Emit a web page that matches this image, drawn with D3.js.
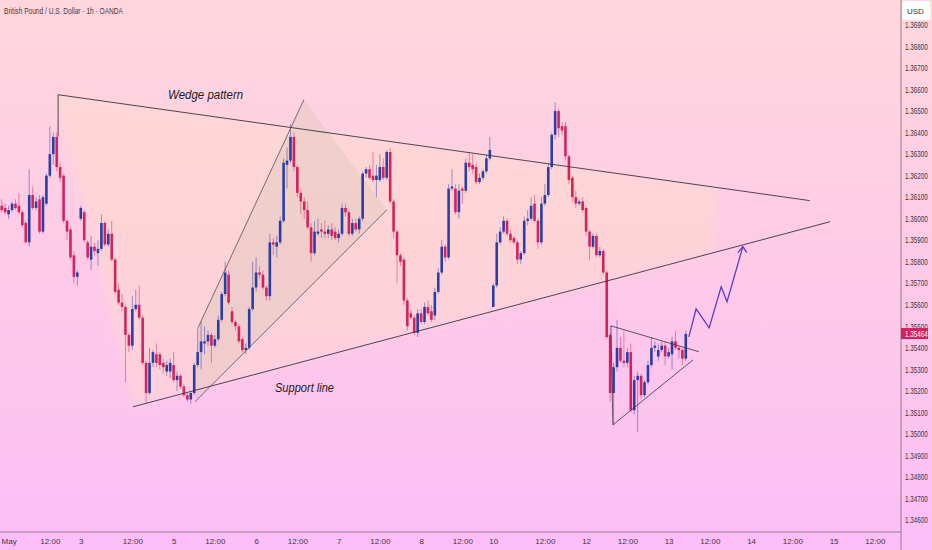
<!DOCTYPE html>
<html>
<head>
<meta charset="utf-8">
<script src="https://cdn.jsdelivr.net/npm/d3@7"></script>
<style>
  html, body { margin: 0; padding: 0; background: #fdd3e2; }
  svg { display: block; }
  .axis text { font-family: "Liberation Sans", Arial, sans-serif; fill: #3d3540; }
</style>
</head>
<body>
<div id="chart"></div>
<script>
// GBP/USD 1h candles, [open, high, low, close]
var candles = [
  [1.3606,1.3609,1.3603,1.3604],[1.3605,1.3607,1.3602,1.3603],[1.3602,1.3606,1.3600,1.3604],[1.3604,1.3608,1.3603,1.3607],
  [1.3607,1.3609,1.3604,1.3605],[1.3606,1.3612,1.3602,1.3603],[1.3603,1.3604,1.3596,1.3597],[1.3598,1.3599,1.3589,1.3589],
  [1.3589,1.3623,1.3587,1.3611],[1.3611,1.3615,1.3604,1.3605],[1.3605,1.3610,1.3604,1.3608],[1.3609,1.3611,1.3593,1.3594],
  [1.3594,1.3611,1.3593,1.3610],[1.3607,1.3621,1.3606,1.3620],[1.3620,1.3643,1.3619,1.3630],[1.3630,1.3640,1.3625,1.3638],
  [1.3638,1.3640,1.3622,1.3624],[1.3624,1.3626,1.3617,1.3619],[1.3620,1.3621,1.3598,1.3599],[1.3599,1.3600,1.3590,1.3594],
  [1.3595,1.3596,1.3581,1.3582],[1.3583,1.3585,1.3570,1.3573],[1.3573,1.3576,1.3569,1.3575],[1.3600,1.3606,1.3599,1.3605],
  [1.3603,1.3604,1.3589,1.3590],[1.3589,1.3590,1.3581,1.3582],[1.3581,1.3592,1.3576,1.3587],[1.3587,1.3589,1.3583,1.3585],
  [1.3584,1.3590,1.3578,1.3586],[1.3586,1.3602,1.3585,1.3598],[1.3598,1.3599,1.3587,1.3588],[1.3588,1.3595,1.3587,1.3593],
  [1.3593,1.3599,1.3580,1.3581],[1.3581,1.3582,1.3565,1.3566],[1.3567,1.3570,1.3560,1.3561],[1.3561,1.3565,1.3557,1.3559],
  [1.3559,1.3560,1.3524,1.3546],[1.3546,1.3547,1.3538,1.3541],[1.3541,1.3564,1.3539,1.3558],[1.3558,1.3567,1.3557,1.3560],
  [1.3560,1.3569,1.3553,1.3554],[1.3554,1.3555,1.3532,1.3533],[1.3533,1.3534,1.3514,1.3519],[1.3519,1.3540,1.3518,1.3533],
  [1.3533,1.3539,1.3531,1.3538],[1.3537,1.3542,1.3531,1.3533],[1.3537,1.3538,1.3530,1.3532],[1.3533,1.3535,1.3528,1.3531],
  [1.3529,1.3534,1.3527,1.3532],[1.3529,1.3535,1.3526,1.3533],[1.3532,1.3538,1.3524,1.3525],[1.3525,1.3529,1.3520,1.3527],
  [1.3527,1.3528,1.3521,1.3522],[1.3522,1.3523,1.3517,1.3518],[1.3518,1.3519,1.3515,1.3516],[1.3516,1.3520,1.3514,1.3519],
  [1.3519,1.3533,1.3518,1.3532],[1.3532,1.3549,1.3531,1.3538],[1.3538,1.3552,1.3530,1.3543],[1.3542,1.3550,1.3537,1.3543],
  [1.3543,1.3548,1.3541,1.3546],[1.3546,1.3547,1.3533,1.3541],[1.3541,1.3546,1.3540,1.3544],[1.3544,1.3555,1.3543,1.3553],
  [1.3553,1.3566,1.3552,1.3565],[1.3565,1.3580,1.3564,1.3575],[1.3574,1.3576,1.3560,1.3561],[1.3557,1.3559,1.3551,1.3552],
  [1.3552,1.3553,1.3548,1.3550],[1.3550,1.3551,1.3542,1.3543],[1.3544,1.3545,1.3538,1.3539],[1.3539,1.3542,1.3537,1.3540],
  [1.3540,1.3559,1.3539,1.3558],[1.3558,1.3580,1.3557,1.3568],[1.3568,1.3582,1.3566,1.3575],[1.3575,1.3578,1.3572,1.3574],
  [1.3574,1.3576,1.3567,1.3568],[1.3568,1.3569,1.3562,1.3564],[1.3564,1.3593,1.3562,1.3589],[1.3589,1.3591,1.3583,1.3588],
  [1.3587,1.3592,1.3582,1.3589],[1.3589,1.3601,1.3588,1.3599],[1.3599,1.3628,1.3598,1.3626],[1.3625,1.3633,1.3614,1.3627],
  [1.3627,1.3644,1.3626,1.3638],[1.3638,1.3640,1.3622,1.3624],[1.3624,1.3625,1.3610,1.3612],[1.3612,1.3614,1.3602,1.3608],
  [1.3608,1.3610,1.3600,1.3604],[1.3604,1.3608,1.3595,1.3596],[1.3596,1.3598,1.3580,1.3584],[1.3584,1.3599,1.3583,1.3594],
  [1.3593,1.3600,1.3592,1.3594],[1.3595,1.3598,1.3591,1.3594],[1.3594,1.3599,1.3591,1.3593],[1.3593,1.3597,1.3591,1.3595],
  [1.3595,1.3598,1.3590,1.3592],[1.3594,1.3596,1.3590,1.3591],[1.3591,1.3595,1.3589,1.3593],[1.3593,1.3607,1.3592,1.3605],
  [1.3605,1.3607,1.3601,1.3603],[1.3603,1.3604,1.3592,1.3593],[1.3593,1.3600,1.3592,1.3598],[1.3598,1.3600,1.3594,1.3595],
  [1.3595,1.3601,1.3593,1.3600],[1.3600,1.3622,1.3599,1.3621],[1.3621,1.3624,1.3619,1.3623],[1.3623,1.3625,1.3618,1.3619],
  [1.3620,1.3631,1.3617,1.3618],[1.3618,1.3625,1.3610,1.3620],[1.3618,1.3630,1.3617,1.3624],[1.3624,1.3628,1.3618,1.3619],
  [1.3619,1.3632,1.3618,1.3631],[1.3631,1.3633,1.3607,1.3608],[1.3608,1.3609,1.3591,1.3594],[1.3594,1.3595,1.3570,1.3583],
  [1.3583,1.3584,1.3578,1.3580],[1.3581,1.3582,1.3560,1.3562],[1.3562,1.3563,1.3548,1.3550],[1.3556,1.3558,1.3553,1.3554],
  [1.3554,1.3555,1.3546,1.3547],[1.3547,1.3558,1.3545,1.3556],[1.3556,1.3558,1.3551,1.3552],[1.3552,1.3561,1.3551,1.3559],
  [1.3559,1.3562,1.3555,1.3556],[1.3557,1.3560,1.3552,1.3553],[1.3555,1.3568,1.3553,1.3566],[1.3566,1.3577,1.3565,1.3575],
  [1.3575,1.3590,1.3574,1.3587],[1.3587,1.3588,1.3580,1.3582],[1.3582,1.3616,1.3581,1.3614],[1.3614,1.3623,1.3613,1.3615],
  [1.3614,1.3616,1.3602,1.3603],[1.3603,1.3616,1.3600,1.3613],[1.3614,1.3615,1.3607,1.3613],[1.3613,1.3628,1.3612,1.3626],
  [1.3626,1.3631,1.3622,1.3624],[1.3625,1.3630,1.3621,1.3623],[1.3624,1.3626,1.3616,1.3617],[1.3617,1.3621,1.3616,1.3619],
  [1.3619,1.3623,1.3618,1.3622],[1.3622,1.3630,1.3621,1.3628],[1.3628,1.3638,1.3627,1.3632],[1.3559,1.3570,1.3559,1.3569],
  [1.3569,1.3593,1.3568,1.3589],[1.3589,1.3596,1.3588,1.3594],[1.3594,1.3601,1.3593,1.3599],[1.3599,1.3600,1.3592,1.3593],
  [1.3593,1.3595,1.3589,1.3590],[1.3591,1.3592,1.3588,1.3589],[1.3589,1.3590,1.3579,1.3581],[1.3581,1.3585,1.3579,1.3584],
  [1.3584,1.3601,1.3583,1.3599],[1.3599,1.3604,1.3597,1.3600],[1.3600,1.3610,1.3599,1.3606],[1.3607,1.3611,1.3598,1.3599],
  [1.3599,1.3600,1.3586,1.3589],[1.3589,1.3610,1.3588,1.3607],[1.3607,1.3616,1.3606,1.3611],[1.3611,1.3626,1.3610,1.3624],
  [1.3624,1.3640,1.3623,1.3639],[1.3639,1.3654,1.3637,1.3650],[1.3650,1.3651,1.3638,1.3642],[1.3643,1.3645,1.3639,1.3641],
  [1.3643,1.3645,1.3627,1.3629],[1.3629,1.3630,1.3616,1.3618],[1.3619,1.3620,1.3608,1.3610],[1.3610,1.3613,1.3605,1.3607],
  [1.3607,1.3609,1.3606,1.3608],[1.3608,1.3610,1.3603,1.3604],[1.3605,1.3606,1.3592,1.3594],[1.3594,1.3595,1.3581,1.3587],
  [1.3587,1.3593,1.3586,1.3592],[1.3592,1.3593,1.3582,1.3583],[1.3583,1.3587,1.3582,1.3585],[1.3585,1.3586,1.3574,1.3575],
  [1.3575,1.3576,1.3544,1.3545],[1.3546,1.3547,1.3515,1.3519],[1.3519,1.3533,1.3504,1.3531],[1.3531,1.3553,1.3529,1.3540],
  [1.3540,1.3545,1.3533,1.3534],[1.3534,1.3548,1.3531,1.3533],[1.3533,1.3540,1.3531,1.3538],[1.3538,1.3542,1.3510,1.3511],
  [1.3511,1.3527,1.3509,1.3525],[1.3525,1.3529,1.3501,1.3527],[1.3527,1.3528,1.3516,1.3518],[1.3518,1.3525,1.3517,1.3524],
  [1.3524,1.3534,1.3523,1.3532],[1.3532,1.3545,1.3531,1.3540],[1.3540,1.3543,1.3538,1.3541],[1.3536,1.3542,1.3534,1.3539],
  [1.3539,1.3543,1.3538,1.3541],[1.3541,1.3543,1.3532,1.3536],[1.3536,1.3540,1.3535,1.3538],[1.3537,1.3545,1.3530,1.3543],
  [1.3543,1.3548,1.3539,1.3540],[1.3540,1.3541,1.3535,1.3539],[1.3539,1.3540,1.3532,1.3535],[1.3535,1.3548,1.3534,1.35464]
];

var lastPrice = 1.35464;

// time axis: bar index of each label, and the label
var timeTickIdx = [2, 14, 23, 38, 50, 62, 74, 86, 98, 110, 122, 134, 143, 158, 170, 182, 194, 206, 218, 230, 242, 254];
var timeTickLabels = ["May", "12:00", "3", "12:00", "5", "12:00", "6", "12:00", "7", "12:00", "8", "12:00",
                      "10", "12:00", "12", "12:00", "13", "12:00", "14", "12:00", "15", "12:00"];

// price axis ticks
var priceTicks = [1.369, 1.368, 1.367, 1.366, 1.365, 1.364, 1.363, 1.362, 1.361, 1.360, 1.359, 1.358,
                  1.357, 1.356, 1.355, 1.354, 1.353, 1.352, 1.351, 1.350, 1.349, 1.348, 1.347, 1.346];

// drawings, as [bar index, price]
var wedgeTopLine = [[16.4, 1.36576], [235.1, 1.36084]];
var wedgeLeftEdge = [[16.4, 1.36576], [16.4, 1.36381]];
var supportLine = [[38.2, 1.35126], [241.0, 1.35986]];
var wedgeZone = [[16.4, 1.36576], [207.5, 1.36146], [207.5, 1.35844], [38.2, 1.35126]];
var risingWedge = [[56.2, 1.35149], [57.1, 1.35493], [87.9, 1.36553], [112.1, 1.36042]];
var pennantTop = [[177.2, 1.35502], [202.8, 1.35382]];
var pennantBottom = [[177.8, 1.35042], [201.1, 1.35344]];
var pennantEdge = [[177.2, 1.35502], [177.8, 1.35042]];
var projection = [[199.9, 1.35451], [202.0, 1.35581], [205.8, 1.35493], [209.3, 1.35684], [211.0, 1.35614], [215.6, 1.35870]];
var notes = [
  { text: "Wedge pattern", at: [48.4, 1.36558], len: 75 },
  { text: "Support line", at: [79.5, 1.35196], len: 59 }
];

function init() {
var w = 932;
var h = 550;
var plotRight = 901;
var plotBottom = 532;
var squeeze = 0.74;   // axis labels are narrow in the original

var svg = d3.select("#chart")
            .append("svg")
            .attr("width", w)
            .attr("height", h);

var defs = svg.append("defs");
var bg = defs.append("linearGradient").attr("id", "bg")
    .attr("x1", 0).attr("y1", 0).attr("x2", 0).attr("y2", 1);
bg.append("stop").attr("offset", "0%").attr("stop-color", "#ffd7dd");
bg.append("stop").attr("offset", "45%").attr("stop-color", "#fecbe6");
bg.append("stop").attr("offset", "100%").attr("stop-color", "#fdbef8");

defs.append("filter").attr("id", "soft")
    .attr("x", "-10%").attr("y", "-10%").attr("width", "120%").attr("height", "120%")
    .append("feGaussianBlur").attr("stdDeviation", 4);

svg.append("rect")
    .attr("width", w)
    .attr("height", h)
    .attr("fill", "url(#bg)");

var x = d3.scaleLinear().domain([-0.5, 255.5]).range([0, 880]);
var y = d3.scaleLinear().domain([1.346, 1.369]).range([520, 25]);

var line = d3.line()
    .x(function(d) { return x(d[0]); })
    .y(function(d) { return y(d[1]); });

var plot = svg.append("g");

// shaded zones
plot.append("path")
    .attr("d", line(wedgeZone) + "Z")
    .attr("fill", "#ffe0c6")
    .attr("opacity", 0.42)
    .attr("filter", "url(#soft)");

plot.append("path")
    .attr("d", line(risingWedge) + "Z")
    .attr("fill", "#dcc6ba")
    .attr("opacity", 0.4);

// candles
var up = "#2a3fa6";
var down = "#d3235f";

plot.selectAll("line.wick")
    .data(candles)
    .enter()
    .append("line")
    .attr("class", "wick")
    .attr("x1", function(d, i) { return x(i); })
    .attr("x2", function(d, i) { return x(i); })
    .attr("y1", function(d) { return y(d[1]); })
    .attr("y2", function(d) { return y(d[2]); })
    .attr("stroke", function(d) { return d[3] >= d[0] ? up : down; })
    .attr("stroke-opacity", 0.55)
    .attr("stroke-width", 0.9);

plot.selectAll("rect.body")
    .data(candles)
    .enter()
    .append("rect")
    .attr("class", "body")
    .attr("x", function(d, i) { return x(i) - 1.3; })
    .attr("y", function(d) { return y(Math.max(d[0], d[3])); })
    .attr("width", 2.6)
    .attr("height", function(d) { return Math.max(1, Math.abs(y(d[0]) - y(d[3]))); })
    .attr("fill", function(d) { return d[3] >= d[0] ? up : down; });

// trend lines
var lineColor = "#3b3340";
[wedgeTopLine, wedgeLeftEdge, supportLine].forEach(function(seg) {
    plot.append("path")
        .attr("d", line(seg))
        .attr("fill", "none")
        .attr("stroke", lineColor)
        .attr("stroke-width", 0.9);
});

plot.append("path")
    .attr("d", line([risingWedge[0], risingWedge[3]]) + line([risingWedge[1], risingWedge[2]]))
    .attr("fill", "none")
    .attr("stroke", "#5a4e58")
    .attr("stroke-width", 0.8);

[pennantTop, pennantBottom, pennantEdge].forEach(function(seg) {
    plot.append("path")
        .attr("d", line(seg))
        .attr("fill", "none")
        .attr("stroke", lineColor)
        .attr("stroke-width", 0.8);
});

// projected path with arrow
var arrowColor = "#5a3cc8";
plot.append("path")
    .attr("d", line(projection))
    .attr("fill", "none")
    .attr("stroke", arrowColor)
    .attr("stroke-width", 1.3)
    .attr("stroke-linejoin", "miter");

var tip = projection[projection.length - 1];
var tx = x(tip[0]), ty = y(tip[1]);
plot.append("path")
    .attr("d", "M" + (tx - 5) + "," + (ty + 6) + "L" + tx + "," + ty + "L" + (tx + 4) + "," + (ty + 6))
    .attr("fill", "none")
    .attr("stroke", arrowColor)
    .attr("stroke-width", 1.3);

// labels on the chart
plot.selectAll("text.note")
    .data(notes)
    .enter()
    .append("text")
    .attr("class", "note")
    .attr("x", function(d) { return x(d.at[0]); })
    .attr("y", function(d) { return y(d.at[1]); })
    .attr("textLength", function(d) { return d.len; })
    .attr("lengthAdjust", "spacingAndGlyphs")
    .attr("font-family", "Liberation Sans, Arial, sans-serif")
    .attr("font-style", "italic")
    .attr("font-size", 13)
    .attr("fill", "#1d1a22")
    .text(function(d) { return d.text; });

// title
svg.append("text")
    .attr("x", 4)
    .attr("y", 14)
    .attr("textLength", 119)
    .attr("lengthAdjust", "spacingAndGlyphs")
    .attr("font-family", "Liberation Sans, Arial, sans-serif")
    .attr("font-size", 9.5)
    .attr("fill", "#45394a")
    .text("British Pound / U.S. Dollar \u00b7 1h \u00b7 OANDA");

// price axis
var yAxis = d3.axisRight(y)
    .tickValues(priceTicks)
    .tickSize(0)
    .tickPadding(4)
    .tickFormat(d3.format(".5f"));

var gy = svg.append("g")
    .attr("class", "axis")
    .attr("transform", "translate(" + plotRight + ",0)")
    .call(yAxis);
gy.select(".domain").remove();
gy.selectAll("text")
    .attr("font-size", 8.5)
    .attr("x", 4 / squeeze)
    .attr("transform", "scale(" + squeeze + ",1)");

svg.append("line")
    .attr("x1", plotRight).attr("x2", plotRight)
    .attr("y1", 0).attr("y2", h)
    .attr("stroke", "#8d7f8c")
    .attr("stroke-width", 1);

// USD box
svg.append("rect")
    .attr("x", plotRight + 1.5).attr("y", 1)
    .attr("width", 28).attr("height", 19)
    .attr("rx", 2)
    .attr("fill", "#ffffff");
svg.append("text")
    .attr("x", plotRight + 6).attr("y", 14)
    .attr("font-family", "Liberation Sans, Arial, sans-serif")
    .attr("font-size", 8)
    .attr("fill", "#333")
    .text("USD");

// last price marker
svg.append("rect")
    .attr("x", plotRight)
    .attr("y", y(lastPrice) - 6)
    .attr("width", 27)
    .attr("height", 11)
    .attr("fill", "#d61f5c");
svg.append("text")
    .attr("transform", "translate(" + (plotRight + 4) + "," + (y(lastPrice) + 3) + ") scale(" + squeeze + ",1)")
    .attr("font-family", "Liberation Sans, Arial, sans-serif")
    .attr("font-size", 8.5)
    .attr("fill", "#ffffff")
    .text(d3.format(".5f")(lastPrice));

// time axis
var xAxis = d3.axisBottom(x)
    .tickValues(timeTickIdx)
    .tickSize(0)
    .tickPadding(12)
    .tickFormat(function(d, i) { return timeTickLabels[i]; });

var gx = svg.append("g")
    .attr("class", "axis")
    .attr("transform", "translate(0," + plotBottom + ")")
    .call(xAxis);
gx.select(".domain").remove();
gx.selectAll("text").attr("font-size", 8).attr("dy", 0);

svg.append("line")
    .attr("x1", 0).attr("x2", plotRight)
    .attr("y1", plotBottom).attr("y2", plotBottom)
    .attr("stroke", "#8d7f8c")
    .attr("stroke-width", 1);
}

window.onload = init;
</script>
</body>
</html>
